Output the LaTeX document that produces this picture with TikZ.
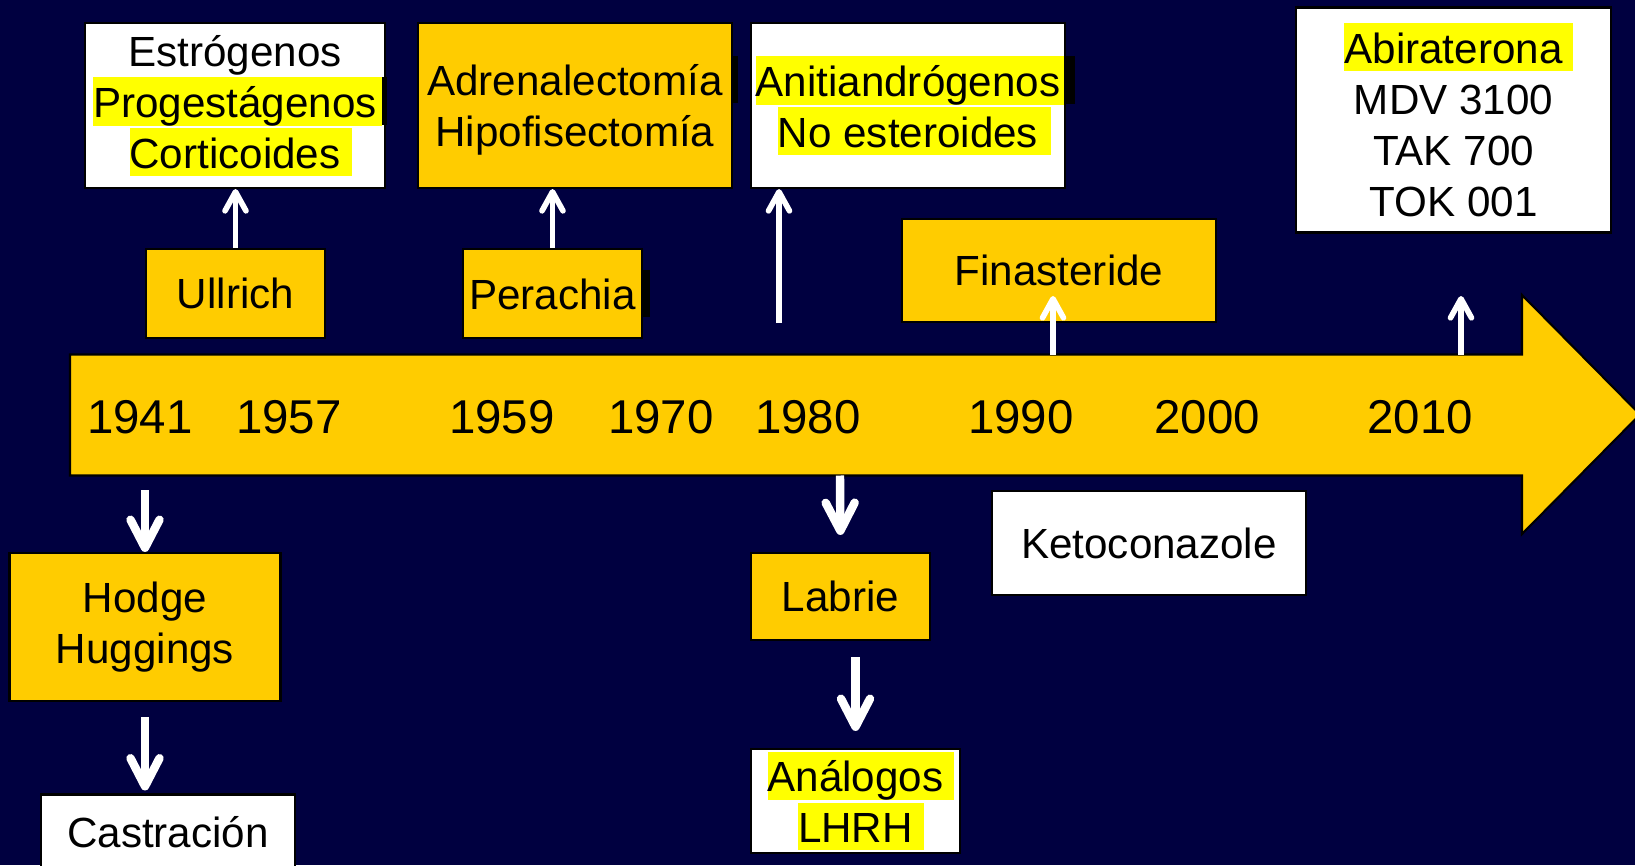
\documentclass[tikz,border=0pt]{standalone}
\usepackage{fontspec}
\setmainfont{Liberation Sans}
\usetikzlibrary{arrows.meta}
\definecolor{fondo}{RGB}{0,0,64}
\definecolor{oro}{RGB}{255,204,0}
\definecolor{resalte}{RGB}{255,255,0}
% highlighted line, with the trailing space highlighted too
\newcommand{\hl}[2][1.1mm]{{\setlength{\fboxsep}{0pt}\colorbox{resalte}{\rule[-2.2pt]{0pt}{13.6pt}#2\hspace{#1}}\hspace{-#1}}}
% small black strip after a line
\newcommand{\cola}[2][0.6mm]{\rlap{\hspace{#2}\textcolor{black}{\rule[-2.2pt]{#1}{13.6pt}}}}
\begin{document}
\begin{tikzpicture}[x=0.1mm, y=-0.1mm,
    caja/.style={draw=black, line width=0.6pt, inner sep=0pt, align=center,
        font=\fontsize{12pt}{14.5pt}\selectfont},
    blanca/.style={caja, fill=white},
    dorada/.style={caja, fill=oro},
    anio/.style={inner sep=0pt, font=\fontsize{13.5pt}{16pt}\selectfont},
    sube/.style={draw=white, line width=1.6pt, -{Straight Barb[round, length=1.9mm, width=2.1mm]}},
    baja/.style={draw=white, line width=2.4pt, -{Straight Barb[round, length=2.8mm, width=2.9mm]}}]

    \path[use as bounding box, fill=fondo] (0,0) rectangle (1635,865);
    \clip (0,0) rectangle (1635,865);

    % Time line
    \draw[fill=oro, draw=black, line width=0.6pt] (70,354.5) -- (1522,354.5) -- (1522,295) -- (1640,414.5)
        -- (1522,534) -- (1522,475.5) -- (70,475.5) -- cycle;
    \node[anio] (y41) at (140,417) {1941};
    \node[anio] (y57) at (289,417) {1957};
    \node[anio] (y59) at (502,417) {1959};
    \node[anio] (y70) at (661,417) {1970};
    \node[anio] (y80) at (808,417) {1980};
    \node[anio] (y90) at (1021,417) {1990};
    \node[anio] (y00) at (1207,417) {2000};
    \node[anio] (y10) at (1420,417) {2010};

    % Above the line
    \node[blanca, minimum width=30mm, minimum height=16.5mm] (estro) at (235,105.5) {
        Estrógenos \\
        \hl[0.5mm]{Progestágenos}\cola[0.5mm]{0.5mm} \\
        \hl[1.2mm]{Corticoides}
    };
    \node[dorada, minimum width=31.4mm, minimum height=16.5mm] (adren) at (575,105.5) {
        Adrenalectomía\cola{0.9mm} \\
        Hipofisectomía
    };
    \node[blanca, minimum width=31.4mm, minimum height=16.5mm] (antia) at (908,105.5) {
        \hl[0.35mm]{Anitiandrógenos}\cola[1.1mm]{0.35mm} \\
        \hl[1.25mm]{No esteroides}
    };
    \node[blanca, minimum width=31.5mm, minimum height=22.5mm] (abira) at (1453.5,120) {
        \hl[1mm]{Abiraterona} \\
        MDV 3100 \\
        TAK 700 \\
        TOK 001
    };
    \node[dorada, minimum width=17.9mm, minimum height=8.9mm] (ullr) at (235.5,293.5) {Ullrich};
    \node[dorada, minimum width=17.9mm, minimum height=8.9mm] (perac) at (552.5,293.5) {Perachia\cola[0.7mm]{0.75mm}};
    \node[dorada, minimum width=31.4mm, minimum height=10.3mm] (finas) at (1059,270.5) {Finasteride};

    % Below the line
    \node[dorada, minimum width=27.1mm, minimum height=14.8mm] (hodge) at (145,627) {Hodge \\ Huggings};
    \node[blanca, minimum width=25.4mm, minimum height=7.5mm] (castr) at (168,832) {Castración};
    \node[dorada, minimum width=17.9mm, minimum height=8.7mm] (labri) at (840.5,596.5) {Labrie};
    \node[blanca, minimum width=20.9mm, minimum height=10.4mm] (analo) at (855.5,801) {
        \hl{Análogos} \\
        \hl{LHRH}
    };
    \node[blanca, minimum width=31.4mm, minimum height=10.4mm] (ketoc) at (1149,543) {Ketoconazole};

    % Free ends of the arrows
    \coordinate (a80) at (779,323);
    \coordinate (a90) at (1053,354.5);
    \coordinate (f90) at (1053,296);
    \coordinate (a10) at (1461,354.5);
    \coordinate (f10) at (1461,296);
    \coordinate (b41) at (145,490);
    \coordinate (b80) at (840,475.5);

    % Arrows
    \draw[sube] (ullr.north) -- (ullr.north |- estro.south);
    \draw[sube] (perac.north) -- (perac.north |- adren.south);
    \draw[sube] (a80) -- (a80 |- antia.south);
    \draw[sube] (a90) -- (f90);
    \draw[sube] (a10) -- (f10);
    \draw[baja] (b41) -- (hodge.north);
    \draw[baja, shorten <=1.5mm, shorten >=0.3mm] (hodge.south) -- (hodge.south |- castr.north);
    \draw[baja, shorten >=1.7mm] (b80) -- (labri.north);
    \draw[baja, shorten <=1.6mm, shorten >=1.7mm] (analo.north |- labri.south) -- (analo.north);
\end{tikzpicture}
\end{document}
